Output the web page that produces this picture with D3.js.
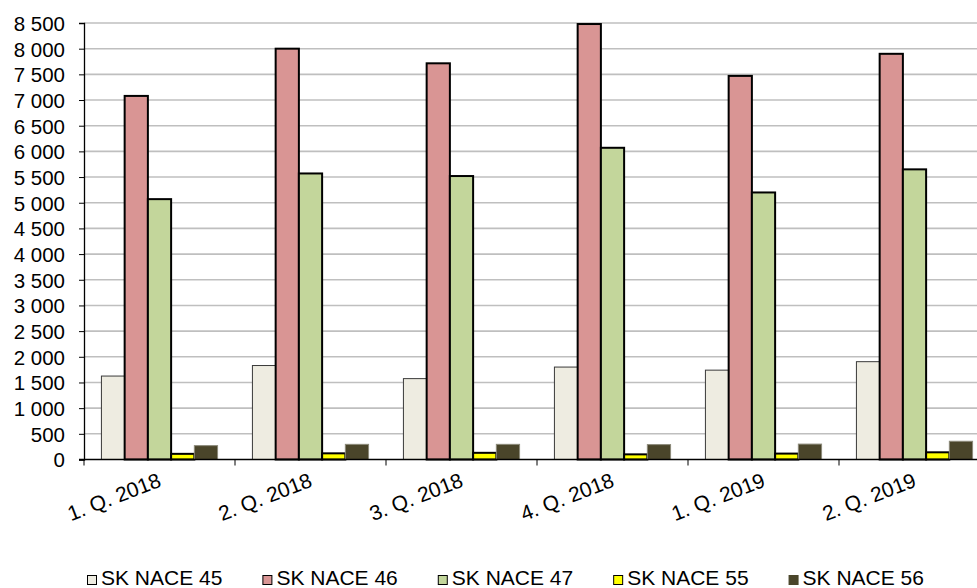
<!DOCTYPE html>
<html>
<head>
<meta charset="utf-8">
<script src="https://cdn.jsdelivr.net/npm/d3@7"></script>
<style>
  body { margin: 0; background: #fff; }
  text { font-family: "Liberation Sans", Arial, sans-serif; fill: #000; }
</style>
</head>
<body>
<svg id="chart" width="977" height="588"></svg>
<script>
// data
const quarters = ['1. Q. 2018', '2. Q. 2018', '3. Q. 2018', '4. Q. 2018', '1. Q. 2019', '2. Q. 2019'];
const seriesNames = ['SK NACE 45', 'SK NACE 46', 'SK NACE 47', 'SK NACE 55', 'SK NACE 56'];
const nace45 = [1625, 1830, 1575, 1800, 1740, 1905];
const nace46 = [7080, 8000, 7715, 8480, 7470, 7900];
const nace47 = [5070, 5570, 5520, 6070, 5200, 5650];
const nace55 = [110, 120, 130, 100, 115, 140];
const nace56 = [270, 295, 295, 290, 300, 355];
const yTicks = d3.range(0, 8501, 500);

const seriesValues = [nace45, nace46, nace47, nace55, nace56];
const fills = ['#eeece1', '#d99594', '#c3d69b', '#ffff00', '#4a452a'];
const strokes = ['#3a3a3a', '#000', '#000', '#000', '#8c8a7a'];
const strokeW = [1, 2, 2, 2, 1];

const svg = d3.select('#chart');
const plotLeft = 84, plotTop = 23, plotBottom = 459.5, bandW = 151;

const fmt = d3.formatLocale({decimal: ',', thousands: ' ', grouping: [3], currency: ['', '']}).format(',d');

const y = d3.scaleLinear().domain([0, 8500]).range([plotBottom, plotTop]);
const x0 = d3.scaleBand().domain(quarters).range([plotLeft, plotLeft + bandW * quarters.length]);
const gap = bandW * 1.5 / 6.5;
const x1 = d3.scaleBand().domain(seriesNames).range([gap / 2, bandW - gap / 2]);

// gridlines
svg.append('g')
    .selectAll('line')
    .data(yTicks.filter(d => d > 0))
    .join('line')
    .attr('x1', plotLeft).attr('x2', 977)
    .attr('y1', d => y(d)).attr('y2', d => y(d))
    .attr('stroke', '#bfbfbf')
    .attr('stroke-width', 1.6);

// bars
const rows = quarters.map((q, i) => ({q, vals: seriesValues.map((s, k) => ({k, v: s[i]}))}));
svg.append('g')
    .selectAll('g')
    .data(rows)
    .join('g')
    .attr('transform', d => `translate(${x0(d.q)},0)`)
    .selectAll('rect')
    .data(d => d.vals)
    .join('rect')
    .attr('x', d => x1(seriesNames[d.k]))
    .attr('width', x1.bandwidth())
    .attr('y', d => y(d.v))
    .attr('height', d => y(0) - y(d.v))
    .attr('fill', d => fills[d.k])
    .attr('stroke', d => strokes[d.k])
    .attr('stroke-width', d => strokeW[d.k]);

// y axis
const yAxis = svg.append('g')
    .attr('transform', `translate(${plotLeft},0)`)
    .call(d3.axisLeft(y).tickValues(yTicks).tickFormat(fmt).tickSize(5).tickPadding(14));
yAxis.select('.domain').attr('stroke', '#000').attr('stroke-width', 1.3);
yAxis.selectAll('.tick line').attr('stroke', '#000');
yAxis.selectAll('text').style('font-size', '20.5px').attr('dy', '0.36em');

// x axis
const bounds = d3.range(quarters.length + 1).map(i => plotLeft + i * bandW);
const xg = svg.append('g');
xg.append('line')
    .attr('x1', plotLeft - 5).attr('x2', 977)
    .attr('y1', plotBottom).attr('y2', plotBottom)
    .attr('stroke', '#000').attr('stroke-width', 1.3);
xg.selectAll('line.tk')
    .data(bounds)
    .join('line')
    .attr('class', 'tk')
    .attr('x1', d => d).attr('x2', d => d)
    .attr('y1', plotBottom).attr('y2', plotBottom + 6)
    .attr('stroke', '#000');
xg.selectAll('text')
    .data(quarters)
    .join('text')
    .attr('text-anchor', 'end')
    .attr('transform', d => `translate(${x0(d) + x0.bandwidth() / 2 + 3},486) rotate(-21)`)
    .style('font-size', '21px')
    .text(d => d);

// legend
const lg = svg.append('g');
let lx = 87;
seriesNames.forEach((name, k) => {
  const item = lg.append('g').attr('transform', `translate(${lx},0)`);
  item.append('rect')
      .attr('x', 0.5).attr('y', 575.5).attr('width', 9).attr('height', 9)
      .attr('fill', fills[k])
      .attr('stroke', k === 4 ? fills[k] : '#000')
      .attr('stroke-width', 1);
  const t = item.append('text')
      .attr('x', 14).attr('y', 585)
      .style('font-size', '21px')
      .text(name);
  lx += 14 + t.node().getComputedTextLength() + 40;
});
</script>
</body>
</html>
